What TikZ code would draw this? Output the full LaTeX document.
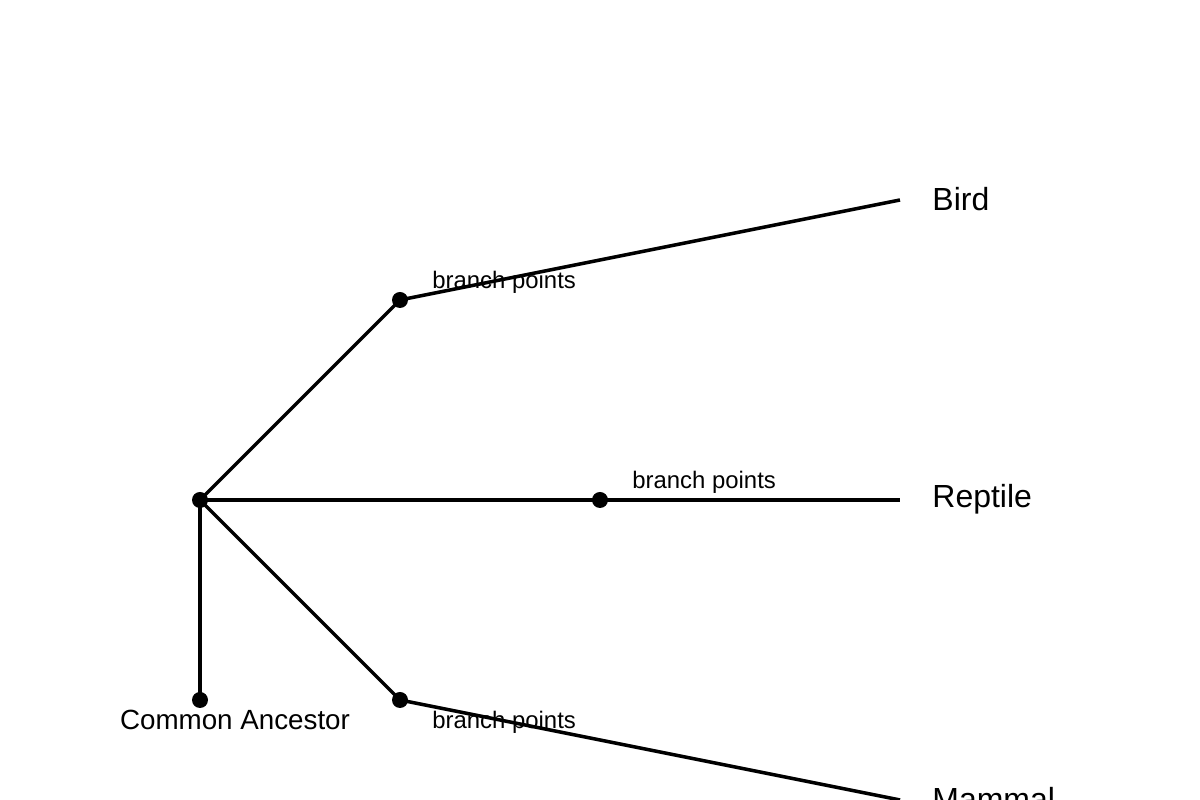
\documentclass[tikz,border=0pt]{standalone}
\usepackage{fontspec}
\setmainfont{Liberation Sans}
\begin{document}
\begin{tikzpicture}[
    branch/.style={line width=1pt, black},
    dot/.style={circle, fill=black, inner sep=0pt, minimum size=0.16cm},
    taxon/.style={anchor=west, font=\fontsize{9.1pt}{11pt}\selectfont},
    tag/.style={anchor=west, font=\fontsize{6.8pt}{8pt}\selectfont}
  ]
  \useasboundingbox (0,0) rectangle (12,8);

  % nodes of the tree
  \node[dot] (root) at (2,3) {};
  \node[dot] (anc) at (2,1) {};
  \node[dot] (top) at (4,5) {};
  \node[dot] (mid) at (6,3) {};
  \node[dot] (bot) at (4,1) {};

  % tips
  \coordinate (bird) at (9,6);
  \coordinate (reptile) at (9,3);
  \coordinate (mammal) at (9,0);

  % branches
  \draw[branch] (root.center) -- (anc.center);
  \draw[branch] (root.center) -- (top.center) -- (bird);
  \draw[branch] (root.center) -- (mid.center) -- (reptile);
  \draw[branch] (root.center) -- (bot.center) -- (mammal);

  % labels
  \node[taxon] (lbird) at (9.2,6.01) {Bird};
  \node[taxon] (lrept) at (9.2,3.01) {Reptile};
  \node[taxon] (lmam) at (9.2,0.01) {Mammal};
  \node[font=\fontsize{7.9pt}{9pt}\selectfont] (lanc) at (2.35,0.8) {Common Ancestor};
  \node[tag] (ltop) at (4.2,5.18) {branch points};
  \node[tag] (lmid) at (6.2,3.18) {branch points};
  \node[tag] (lbot) at (4.2,0.78) {branch points};
\end{tikzpicture}
\end{document}
